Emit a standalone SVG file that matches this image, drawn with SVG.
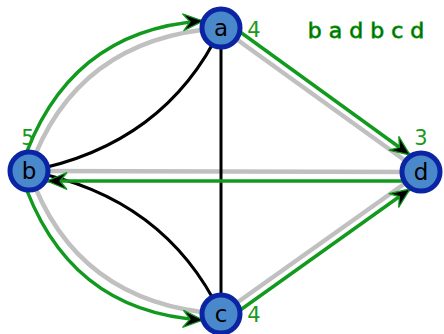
<svg xmlns="http://www.w3.org/2000/svg" width="444" height="334" viewBox="0 0 444 334">
<style>
.nd{fill:#4a88cc;stroke:#0a24a4;stroke-width:5}
.lb{font-family:"DejaVu Sans",sans-serif;font-size:23px;fill:#000;text-anchor:middle}
.dg{font-family:"DejaVu Sans",sans-serif;font-size:21px;fill:#1a9a1a;text-anchor:middle}
.bk{fill:none;stroke:#000;stroke-width:3}
.gy{fill:none;stroke:#c0c0c0;stroke-width:4.5}
.gr{fill:none;stroke:#119a1e;stroke-width:3.4;marker-end:url(#ah)}
</style>
<defs>
<marker id="ah" markerUnits="userSpaceOnUse" markerWidth="26" markerHeight="22" refX="0" refY="0" viewBox="-22 -11 26 22" orient="auto">
<path d="M0,0 L-20,-8.5 L-13,0 L-20,8.5 Z" fill="#000" stroke="#119a1e" stroke-width="1.3" stroke-linejoin="miter"/>
</marker>
</defs>
<g id="connectors">
<path class="gy" d="M29,171 Q75,38 221,28"/>
<path class="gy" d="M29,171 Q75,304 221,314"/>
<path class="gy" d="M29,171 L421,172"/>
<path class="gy" d="M221,28 L421,172"/>
<path class="gy" d="M221,314 L421,172"/>
<path class="bk" d="M29,171 Q165,145 221,28"/>
<path class="bk" d="M29,171 Q165,197 221,314"/>
<path class="bk" d="M221,28 L221,314"/>
<path class="gr" d="M21,168 Q66,30 203,21"/>
<path class="gr" d="M225.7,21.5 L410,155"/>
<path class="gr" d="M421,181 L47,181"/>
<path class="gr" d="M21,174 Q66,312 203,320"/>
<path class="gr" d="M225.6,320.5 L410,189"/>
</g>
<g id="node-a"><circle class="nd" cx="221" cy="28" r="19"/><text class="lb" x="221" y="36">a</text></g>
<g id="node-b"><circle class="nd" cx="29" cy="171" r="19"/><text class="lb" x="29" y="179">b</text></g>
<g id="node-c"><circle class="nd" cx="221" cy="314" r="19"/><text class="lb" x="221" y="322">c</text></g>
<g id="node-d"><circle class="nd" cx="421" cy="172" r="19"/><text class="lb" x="421" y="180">d</text></g>
<g id="degrees">
<text class="dg" x="254" y="37">4</text>
<text class="dg" x="28" y="145">5</text>
<text class="dg" x="254" y="322">4</text>
<text class="dg" x="421" y="145">3</text>
</g>
<text x="366" y="38" text-anchor="middle" font-family="DejaVu Sans, sans-serif" font-size="22" fill="#005a00" stroke="#0a9a0a" stroke-width="0.8">b a d b c d</text>
</svg>
